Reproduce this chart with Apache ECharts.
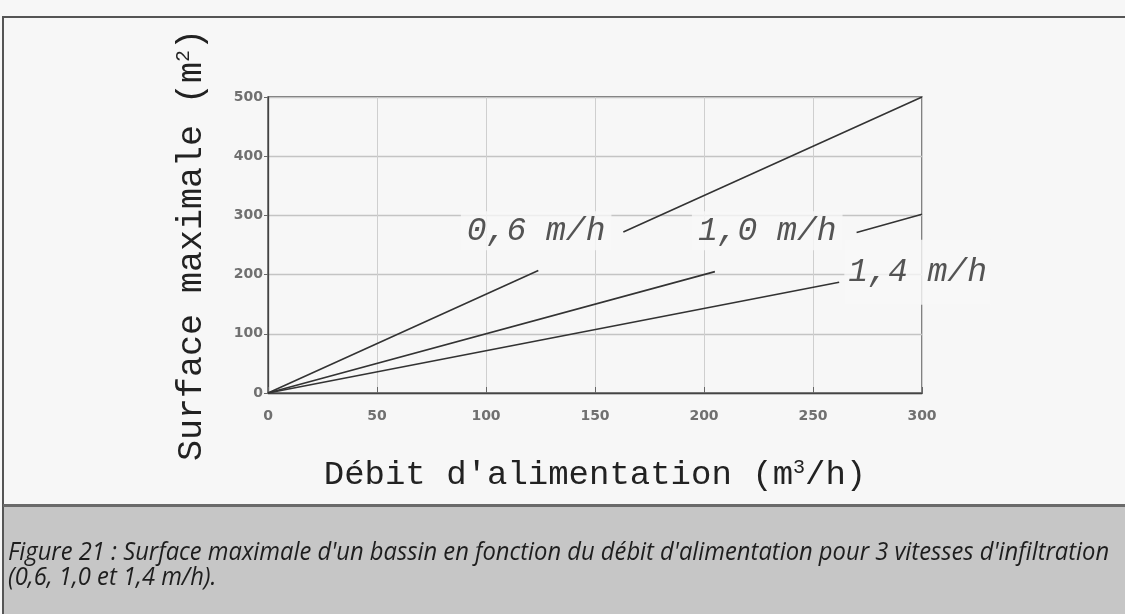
<!DOCTYPE html>
<html>
<head>
<meta charset="utf-8">
<script src="https://cdn.jsdelivr.net/npm/echarts@6/dist/echarts.min.js"></script>
<style>
  html, body { margin: 0; padding: 0; background: #f7f7f7; }
  #chart { width: 1125px; height: 614px; }
</style>
</head>
<body>
<div id="chart"></div>
<script>
// values
var xTicks = [0, 50, 100, 150, 200, 250, 300];
var yTicks = [0, 100, 200, 300, 400, 500];
var speedNames = ['0,6 m/h', '1,0 m/h', '1,4 m/h'];

// each curve is broken where its label sits (null = gap)
var curve06 = [[0, 0], [124, 207], [144, null], [163, 272], [300, 500]];
var curve10 = [[0, 0], [205, 205], [238, null], [270, 271], [300, 302]];
var curve14 = [[0, 0], [262, 187]];

// where the labels are written (data coords)
var labelX = [123, 229, 298];
var labelY = [274, 274, 204];

var caption = "Figure 21 : Surface maximale d'un bassin en fonction du débit d'alimentation pour 3 vitesses d'infiltration\n(0,6, 1,0 et 1,4 m/h).";

var mono = '"Liberation Mono", "DejaVu Sans Mono", monospace';
var lineStyle = {color: '#333', width: 1.6};

var labelData = labelX.map(function (x, i) {
  var item = {value: [x, labelY[i]], name: speedNames[i]};
  if (i === 2) {
    item.label = {padding: [16, 4, 16, 4]};
  }
  return item;
});

var chart = echarts.init(document.getElementById('chart'));

var option = {
  backgroundColor: '#f7f7f7',
  animation: false,
  grid: {
    left: 268, right: 203, top: 97, bottom: 221,
    show: true,
    borderColor: '#444',
    borderWidth: 1.3
  },
  xAxis: {
    type: 'value',
    min: xTicks[0], max: xTicks[xTicks.length - 1], interval: xTicks[1] - xTicks[0],
    name: "Débit d'alimentation (m{sup|3}/h)",
    nameLocation: 'middle',
    nameGap: 65,
    nameTextStyle: {
      fontFamily: mono, fontSize: 34, color: '#222',
      rich: {sup: {fontFamily: mono, fontSize: 20, color: '#222', verticalAlign: 'top', padding: [0, 0, 14, 0]}}
    },
    axisLine: {show: true, lineStyle: {color: '#444', width: 1.3}},
    axisTick: {show: true, inside: true, length: 6, lineStyle: {color: '#666'}},
    axisLabel: {fontFamily: '"DejaVu Sans"', fontWeight: 'bold', fontSize: 14, color: '#707070', margin: 16},
    splitLine: {show: true, lineStyle: {color: '#cfcfcf', width: 1}}
  },
  yAxis: {
    type: 'value',
    min: yTicks[0], max: yTicks[yTicks.length - 1], interval: yTicks[1] - yTicks[0],
    name: 'Surface maximale (m{sup|2})',
    nameLocation: 'middle',
    nameRotate: 90,
    nameGap: 59,
    nameTextStyle: {
      fontFamily: mono, fontSize: 35, color: '#222',
      rich: {sup: {fontFamily: mono, fontSize: 20, color: '#222', verticalAlign: 'top', padding: [0, 0, 14, 0]}}
    },
    axisLine: {show: true, lineStyle: {color: '#444', width: 1.3}},
    axisTick: {show: true, inside: false, length: 4, lineStyle: {color: '#666'}},
    axisLabel: {fontFamily: '"DejaVu Sans"', fontWeight: 'bold', fontSize: 14, color: '#707070', margin: 5},
    splitLine: {show: true, lineStyle: {color: '#c4c4c4', width: 1.3}}
  },
  series: [
    {type: 'line', name: speedNames[0], data: curve06, symbol: 'none', connectNulls: false, lineStyle: lineStyle, z: 3},
    {type: 'line', name: speedNames[1], data: curve10, symbol: 'none', connectNulls: false, lineStyle: lineStyle, z: 3},
    {type: 'line', name: speedNames[2], data: curve14, symbol: 'none', lineStyle: lineStyle, z: 3},
    {
      type: 'scatter',
      data: labelData,
      symbolSize: 0,
      z: 10,
      label: {
        show: true,
        position: 'inside',
        formatter: function (p) { return p.name; },
        fontFamily: mono,
        fontStyle: 'italic',
        fontSize: 33,
        color: '#2a2a2a',
        backgroundColor: '#f7f7f7',
        padding: [3, 6]
      }
    }
  ],
  graphic: [
    {type: 'rect', shape: {x: 3, y: 16, width: 1122, height: 2}, style: {fill: '#555'}},
    {type: 'rect', shape: {x: 2, y: 16, width: 2, height: 598}, style: {fill: '#555'}},
    {type: 'rect', shape: {x: 4, y: 507, width: 1121, height: 107}, style: {fill: '#c6c6c6'}},
    {type: 'rect', shape: {x: 3, y: 504, width: 1122, height: 3}, style: {fill: '#6a6a6a'}},
    {
      type: 'text',
      x: 8, y: 540,
      scaleX: 0.95,
      style: {
        text: caption,
        fontFamily: '"Open Sans"',
        fontStyle: 'italic',
        fontSize: 25,
        lineHeight: 25,
        fill: '#1e1e1e'
      }
    }
  ]
};

chart.setOption(option);
</script>
</body>
</html>
